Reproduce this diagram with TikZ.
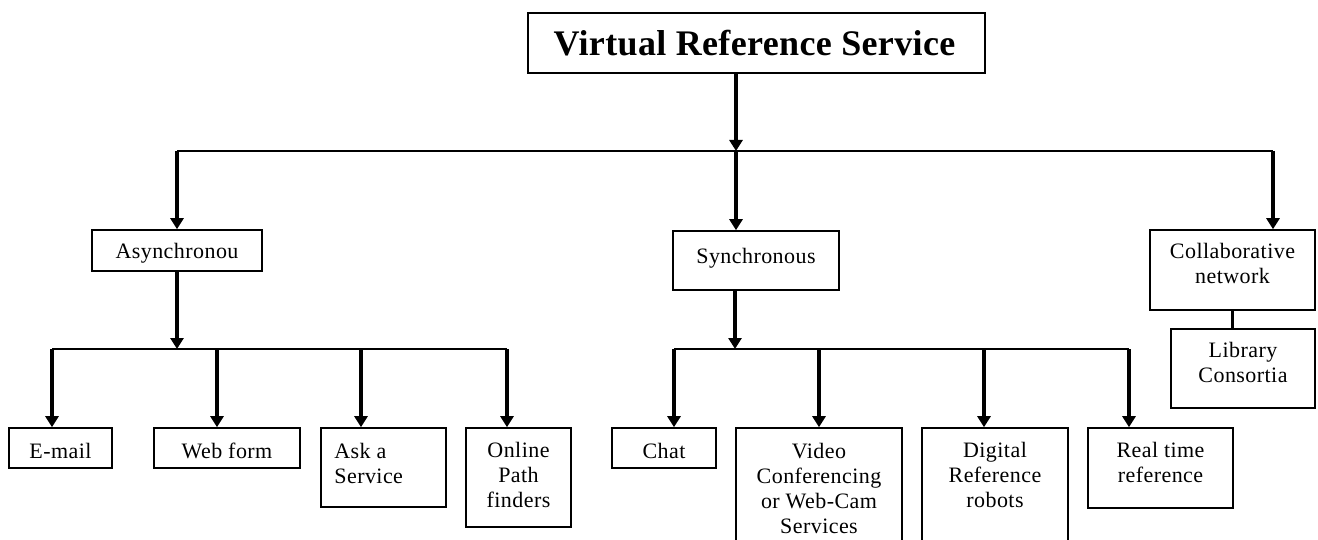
\documentclass[tikz,border=0pt]{standalone}
\usepackage{fontspec}
\setmainfont{Liberation Serif}
\newfontfamily\bodyface[LetterSpace=2]{Liberation Serif}
\newfontfamily\headface[LetterSpace=1]{Liberation Serif}
\usetikzlibrary{arrows.meta,fit,calc}

\begin{document}
\begin{tikzpicture}[x=1pt,y=-1pt,
  box/.style={draw, line width=1.6pt, rectangle, inner sep=0pt},
  txt/.style={font=\bodyface\fontsize{22}{25}\selectfont, align=center, anchor=north, inner sep=0pt},
  arr/.style={line width=3.4pt, -{Triangle[width=13pt,length=11pt]}},
  bar/.style={line width=1.6pt},
  link/.style={line width=3.4pt}]

\useasboundingbox (0,0) rectangle (1318,540);
\fill[white] (0,0) rectangle (1318,540);
\clip (0,0) rectangle (1318,540);

% boxes
\node[box, fit={(528,13) (985,73)}] (title) {};
\node[box, fit={(92,230) (262,271)}] (async) {};
\node[box, fit={(673,231) (839,290)}] (sync) {};
\node[box, fit={(1150,230) (1315,310)}] (collab) {};
\node[box, fit={(1171,329) (1315,408)}] (library) {};
\node[box, fit={(9,428) (112,468)}] (email) {};
\node[box, fit={(154,428) (300,468)}] (webform) {};
\node[box, fit={(321,428) (446,507)}] (ask) {};
\node[box, fit={(466,428) (571,527)}] (online) {};
\node[box, fit={(612,428) (716,468)}] (chat) {};
\node[box, fit={(736,428) (902,570)}] (video) {};
\node[box, fit={(922,428) (1068,570)}] (digital) {};
\node[box, fit={(1088,428) (1233,508)}] (realtime) {};

% labels
\node[font=\headface\bfseries\fontsize{36}{40}\selectfont, inner sep=0pt] (ttitle) at ($(title.center)+(-2,0)$) {Virtual Reference Service};
\node[txt] (tasync) at ($(async.north)+(0,11.8)$) {\strut Asynchronou};
\node[txt] (tsync) at ($(sync.north)+(0,15.8)$) {\strut Synchronous};
\node[txt] (tcollab) at ($(collab.north)+(0,11.8)$) {\strut Collaborative\\network};
\node[txt] (tlibrary) at ($(library.north)+(0,11.8)$) {\strut Library\\Consortia};
\node[txt] (temail) at ($(email.north)+(0,13.3)$) {\strut E-mail};
\node[txt] (twebform) at ($(webform.north)+(0,13.3)$) {\strut Web form};
\node[txt, anchor=north west, align=left] (task) at ($(ask.north west)+(14,13.3)$) {\strut Ask a\\Service};
\node[txt] (tonline) at ($(online.north)+(0,12.8)$) {\strut Online\\Path\\finders};
\node[txt] (tchat) at ($(chat.north)+(0,13.3)$) {\strut Chat};
\node[txt] (tvideo) at ($(video.north)+(0,13.8)$) {\strut Video\\Conferencing\\or Web-Cam\\Services};
\node[txt] (tdigital) at ($(digital.north)+(0,12.3)$) {\strut Digital\\Reference\\robots};
\node[txt] (trealtime) at ($(realtime.north)+(0,12.8)$) {\strut Real time\\reference};

% junctions
\coordinate (jtop) at (736,151);
\coordinate (jleft) at (177,151);
\coordinate (jright) at (1273,151);
\coordinate (ja) at (177,349);
\coordinate (ja1) at (52,349);
\coordinate (ja2) at (217,349);
\coordinate (ja3) at (361,349);
\coordinate (ja4) at (507,349);
\coordinate (js) at (735,349);
\coordinate (js1) at (674,349);
\coordinate (js2) at (819,349);
\coordinate (js3) at (984,349);
\coordinate (js4) at (1129,349);

% first level
\draw[bar] (jleft) -- (jright);
\draw[arr] (jtop |- title.south) -- (jtop);
\draw[arr] (jtop) -- (jtop |- sync.north);
\draw[arr] (jleft) -- (jleft |- async.north);
\draw[arr] (jright) -- (jright |- collab.north);

% asynchronous branch
\draw[arr] (ja |- async.south) -- (ja);
\draw[bar] (ja1) -- (ja4);
\draw[arr] (ja1) -- (ja1 |- email.north);
\draw[arr] (ja2) -- (ja2 |- webform.north);
\draw[arr] (ja3) -- (ja3 |- ask.north);
\draw[arr] (ja4) -- (ja4 |- online.north);

% synchronous branch
\draw[arr] (js |- sync.south) -- (js);
\draw[bar] (js1) -- (js4);
\draw[arr] (js1) -- (js1 |- chat.north);
\draw[arr] (js2) -- (js2 |- video.north);
\draw[arr] (js3) -- (js3 |- digital.north);
\draw[arr] (js4) -- (js4 |- realtime.north);

% collaborative branch
\draw[link] (collab.south) -- (collab.south |- library.north);
\end{tikzpicture}
\end{document}
